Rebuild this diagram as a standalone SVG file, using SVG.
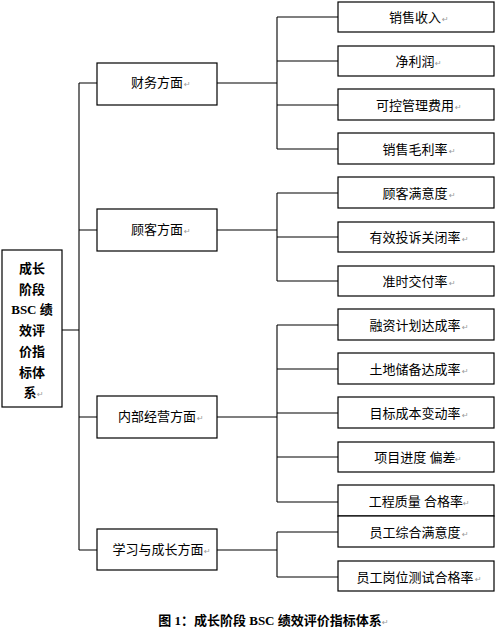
<svg xmlns="http://www.w3.org/2000/svg" width="496" height="635" viewBox="0 0 496 635">
<style>
.box{fill:#fff;stroke:#000;stroke-width:1.2}
.ln{stroke:#000;stroke-width:1.1;fill:none}
.t{font-family:"Liberation Serif","Noto Sans CJK SC",serif;font-size:13px;fill:#000;text-anchor:middle}
.b{font-weight:bold}
.r{font-family:"DejaVu Sans",sans-serif;font-size:8px;fill:#999}
</style>
<rect width="496" height="635" fill="#fff"/>
<g id="connectors" class="ln">
<path d="M62,330H79M79,83V550M79,83H97M79,230H97M79,417H97M79,550H97"/>
<path d="M217,83H277M217,230H277M217,417H277M217,550H277"/>
<path d="M277,17V149M277,17H338M277,61H338M277,105H338M277,149H338"/>
<path d="M277,193V281M277,193H338M277,237H338M277,281H338"/>
<path d="M277,325V502M277,325H338M277,369H338M277,413H338M277,457H338M277,502H338"/>
<path d="M277,532V577M277,532H338M277,577H338"/>
</g>
<g id="root">
<rect class="box" x="2" y="250" width="60" height="157"/>
<text class="t b" x="32" y="273">成长</text>
<text class="t b" x="32" y="294">阶段</text>
<text class="t b" x="32" y="314">BSC 绩</text>
<text class="t b" x="32" y="335">效评</text>
<text class="t b" x="32" y="356">价指</text>
<text class="t b" x="32" y="377">标体</text>
<text class="t b" x="30" y="397">系</text><text class="r" x="37" y="397">↵</text>
</g>
<g id="n-finance">
<rect class="box" x="97" y="63" width="120" height="42"/>
<text class="t" x="157" y="87">财务方面</text><text class="r" x="184" y="87">↵</text>
</g>
<g id="n-customer">
<rect class="box" x="97" y="209" width="120" height="42"/>
<text class="t" x="157" y="234">顾客方面</text><text class="r" x="184" y="234">↵</text>
</g>
<g id="n-internal">
<rect class="box" x="97" y="396" width="120" height="42"/>
<text class="t" x="157" y="421">内部经营方面</text><text class="r" x="197" y="421">↵</text>
</g>
<g id="n-learning">
<rect class="box" x="97" y="529" width="120" height="41"/>
<text class="t" x="158" y="554">学习与成长方面</text><text class="r" x="204" y="554">↵</text>
</g>
<g id="k1"><rect class="box" x="338" y="2" width="156" height="30"/><text class="t" x="415" y="21.5">销售收入</text><text class="r" x="442" y="21.5">↵</text></g>
<g id="k2"><rect class="box" x="338" y="46" width="156" height="30"/><text class="t" x="415" y="65.5">净利润</text><text class="r" x="435" y="65.5">↵</text></g>
<g id="k3"><rect class="box" x="338" y="89" width="156" height="31"/><text class="t" x="415" y="109.5">可控管理费用</text><text class="r" x="455" y="109.5">↵</text></g>
<g id="k4"><rect class="box" x="338" y="133" width="156" height="31"/><text class="t" x="415" y="153.5">销售毛利率</text><text class="r" x="449" y="153.5">↵</text></g>
<g id="k5"><rect class="box" x="338" y="177" width="156" height="31"/><text class="t" x="415" y="197.5">顾客满意度</text><text class="r" x="449" y="197.5">↵</text></g>
<g id="k6"><rect class="box" x="338" y="222" width="156" height="30"/><text class="t" x="415" y="241.5">有效投诉关闭率</text><text class="r" x="462" y="241.5">↵</text></g>
<g id="k7"><rect class="box" x="338" y="266" width="156" height="30"/><text class="t" x="415" y="285.5">准时交付率</text><text class="r" x="449" y="285.5">↵</text></g>
<g id="k8"><rect class="box" x="338" y="309" width="156" height="31"/><text class="t" x="415" y="329.5">融资计划达成率</text><text class="r" x="462" y="329.5">↵</text></g>
<g id="k9"><rect class="box" x="338" y="353" width="156" height="31"/><text class="t" x="415" y="373.5">土地储备达成率</text><text class="r" x="462" y="373.5">↵</text></g>
<g id="k10"><rect class="box" x="338" y="397" width="156" height="31"/><text class="t" x="415" y="417.5">目标成本变动率</text><text class="r" x="462" y="417.5">↵</text></g>
<g id="k11"><rect class="box" x="338" y="442" width="156" height="30"/><text class="t" x="415" y="461.5">项目进度 偏差</text><text class="r" x="455" y="461.5">↵</text></g>
<g id="k12"><rect class="box" x="338" y="485" width="156" height="31"/><text class="t" x="416" y="505.5">工程质量 合格率</text><text class="r" x="463" y="505.5">↵</text></g>
<g id="k13"><rect class="box" x="338" y="516" width="156" height="31"/><text class="t" x="415" y="536.5">员工综合满意度</text><text class="r" x="462" y="536.5">↵</text></g>
<g id="k14"><rect class="box" x="338" y="561" width="156" height="30"/><text class="t" x="415" y="581.5">员工岗位测试合格率</text><text class="r" x="475" y="581.5">↵</text></g>
<g id="caption">
<text class="t b" x="270" y="625">图 1：成长阶段 BSC 绩效评价指标体系</text><text class="r" x="382" y="625">↵</text>
</g>
</svg>
